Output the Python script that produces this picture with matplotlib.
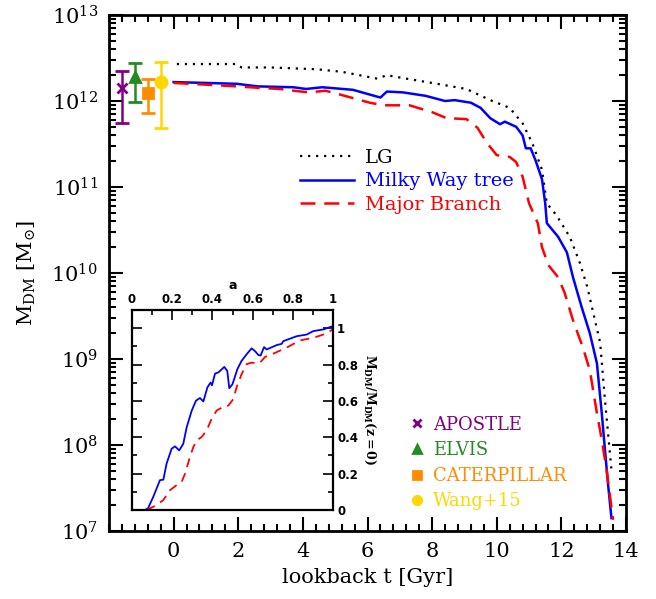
import matplotlib
matplotlib.use("Agg")
import matplotlib.pyplot as plt
import numpy as np
from matplotlib.ticker import MultipleLocator, FixedLocator, LogLocator, LogFormatterMathtext, NullFormatter
from matplotlib.lines import Line2D

plt.rcParams['font.family'] = ['DejaVu Serif']
plt.rcParams['mathtext.fontset'] = 'dejavuserif'

# lookback time [Gyr] and log10(M_DM / Msun)
t_lg = [0.1, 1.0, 1.95, 2.1, 3.0, 4.4, 5.2, 6.3, 6.6, 7.2, 8.0, 9.06, 9.8, 10.4, 10.8,
        11.1, 11.4, 11.55, 11.85, 12.26, 12.57, 12.8, 13.2, 13.34, 13.56]
logm_lg = [12.43, 12.43, 12.43, 12.39, 12.39, 12.37, 12.34, 12.26, 12.30, 12.26, 12.21,
           12.14, 12.01, 11.92, 11.74, 11.51, 11.2, 10.81, 10.67, 10.42, 10.12, 9.84,
           9.19, 8.56, 7.67]

t_mw = [0.0, 1.0, 1.95, 2.6, 3.7, 4.1, 4.6, 5.55, 6.4, 6.6, 7.1, 7.8, 8.4, 8.7, 9.2,
        9.5, 9.8, 10.1, 10.25, 10.6, 10.8, 10.9, 11.05, 11.2, 11.4, 11.5, 11.55, 11.9,
        12.17, 12.36, 12.63, 12.88, 13.1, 13.25, 13.34, 13.44, 13.55]
logm_mw = [12.22, 12.21, 12.20, 12.17, 12.16, 12.14, 12.16, 12.13, 12.04, 12.11, 12.10,
           12.06, 12.0, 12.01, 11.98, 11.92, 11.80, 11.73, 11.76, 11.70, 11.6, 11.45,
           11.45, 11.31, 11.09, 10.81, 10.58, 10.42, 10.24, 9.95, 9.60, 9.30, 8.95,
           8.37, 7.98, 7.56, 7.15]

t_mb = [0.0, 1.0, 1.95, 2.75, 3.3, 3.7, 4.2, 4.7, 5.2, 6.07, 6.5, 7.1, 7.3, 8.0, 8.45,
        9.06, 9.4, 9.7, 10.0, 10.4, 10.6, 10.8, 11.0, 11.27, 11.4, 11.6, 11.9, 12.1,
        12.36, 12.66, 12.88, 13.1, 13.25, 13.4, 13.6]
logm_mb = [12.21, 12.19, 12.17, 12.15, 12.14, 12.12, 12.10, 12.12, 12.07, 11.98, 11.95,
           11.95, 11.95, 11.87, 11.80, 11.79, 11.69, 11.51, 11.37, 11.35, 11.29, 11.12,
           10.81, 10.58, 10.30, 10.09, 9.95, 9.77, 9.45, 9.14, 8.87, 8.37, 8.06, 7.71,
           7.13]

# literature MW mass estimates (in 1e12 Msun)
obs_names = ["APOSTLE", "ELVIS", "CATERPILLAR", "Wang+15"]
obs_t = [-1.6, -1.2, -0.8, -0.4]
obs_m = [1.4, 1.9, 1.25, 1.68]
obs_lo = [0.56, 0.97, 0.72, 0.48]
obs_hi = [2.25, 2.74, 1.8, 2.84]
obs_colors = ["#800080", "#228b22", "#ff8c00", "#ffd700"]
obs_markers = ["x", "^", "s", "o"]

# inset: normalised mass vs scale factor
a_mw = [0.065, 0.08, 0.106, 0.139, 0.156, 0.172, 0.197, 0.214, 0.235, 0.255, 0.272,
        0.297, 0.318, 0.338, 0.355, 0.375, 0.391, 0.398, 0.413, 0.43, 0.438, 0.459,
        0.474, 0.484, 0.5, 0.524, 0.545, 0.57, 0.595, 0.612, 0.629, 0.64, 0.657, 0.67,
        0.72, 0.745, 0.753, 0.82, 0.869, 0.902, 0.952, 0.998]
f_mw = [0.0, 0.01, 0.073, 0.164, 0.167, 0.255, 0.337, 0.35, 0.328, 0.364, 0.455,
        0.546, 0.601, 0.616, 0.597, 0.674, 0.701, 0.686, 0.75, 0.757, 0.765, 0.787,
        0.765, 0.67, 0.692, 0.774, 0.82, 0.856, 0.889, 0.874, 0.852, 0.85, 0.896,
        0.883, 0.907, 0.914, 0.929, 0.956, 0.965, 0.984, 0.993, 1.011]
a_mb = [0.073, 0.122, 0.156, 0.189, 0.222, 0.247, 0.264, 0.288, 0.305, 0.322, 0.346,
        0.371, 0.396, 0.421, 0.454, 0.479, 0.504, 0.52, 0.545, 0.57, 0.595, 0.62,
        0.637, 0.662, 0.703, 0.769, 0.836, 0.902, 0.952, 1.0]
f_mb = [0.0, 0.027, 0.055, 0.109, 0.137, 0.155, 0.2, 0.291, 0.346, 0.383, 0.401,
        0.437, 0.501, 0.547, 0.568, 0.574, 0.61, 0.674, 0.747, 0.802, 0.811, 0.806,
        0.811, 0.842, 0.86, 0.893, 0.933, 0.947, 0.965, 0.993]

fig = plt.figure(figsize=(6.56, 5.99), dpi=100)
ax = fig.add_axes([109/656, 1 - 531/599, 517/656, 516/599])

l_lg, = ax.plot(t_lg, 10**np.array(logm_lg), color="black", ls=(0, (1, 2.6)), lw=1.6)
l_mw, = ax.plot(t_mw, 10**np.array(logm_mw), color="#0000ff", lw=1.8)
l_mb, = ax.plot(t_mb, 10**np.array(logm_mb), color="#ff0000", ls=(0, (6, 3.5)), lw=1.8)

obs_handles = []
for i in range(len(obs_names)):
    m = obs_m[i] * 1e12
    err = [[m - obs_lo[i] * 1e12], [obs_hi[i] * 1e12 - m]]
    ax.errorbar([obs_t[i]], [m], yerr=err, color=obs_colors[i], marker=obs_markers[i],
                ms=6.5 if obs_markers[i] != "o" else 8, mew=2, lw=1.8, capsize=5, capthick=1.8)
    obs_handles.append(Line2D([], [], color=obs_colors[i], marker=obs_markers[i], ls="none",
                              ms=6, mew=2))

ax.set_yscale("log")
ax.set_xlim(-2, 14)
ax.set_ylim(1e7, 1e13)
ax.set_xticks(np.arange(0, 15, 2))
ax.xaxis.set_minor_locator(MultipleLocator(0.4))
ax.yaxis.set_major_locator(FixedLocator([10.0**k for k in range(7, 14)]))
ax.yaxis.set_major_formatter(LogFormatterMathtext())
ax.yaxis.set_minor_locator(LogLocator(base=10, subs=np.arange(2, 10), numticks=20))
ax.yaxis.set_minor_formatter(NullFormatter())
ax.tick_params(which="both", direction="in", top=True, right=True, width=1.5, labelsize=15)
ax.tick_params(which="major", length=10, pad=8)
ax.tick_params(which="minor", length=5)
for s in ax.spines.values():
    s.set_linewidth(2)
ax.set_xlabel("lookback t [Gyr]", fontsize=15, labelpad=5)
ax.set_ylabel(r"$\mathrm{M_{DM}}\ [\mathrm{M_{\odot}}]$", fontsize=15, labelpad=10)

leg1 = ax.legend([l_lg, l_mw, l_mb], ["LG", "Milky Way tree", "Major Branch"],
                 loc="upper left", bbox_to_anchor=(0.335, 0.775), frameon=False,
                 handlelength=2.8, handletextpad=0.55, fontsize=14,
                 labelcolor="linecolor", labelspacing=0.3)
ax.add_artist(leg1)
ax.legend(obs_handles, obs_names, loc="upper left", bbox_to_anchor=(0.55, 0.255),
          frameon=False, handlelength=0.8, handletextpad=0.5, fontsize=13,
          labelcolor=obs_colors, labelspacing=0.42)

# inset
axi = fig.add_axes([132/656, 1 - 510/599, 201/656, 200/599])
axi.plot(a_mw, f_mw, color="#0000ff", lw=1.3)
axi.plot(a_mb, f_mb, color="#ff0000", ls=(0, (5, 3.5)), lw=1.3)
axi.set_xlim(0, 1)
axi.set_ylim(0, 1.1)
axi.xaxis.set_major_locator(MultipleLocator(0.2))
axi.xaxis.set_minor_locator(MultipleLocator(0.1))
axi.yaxis.set_major_locator(MultipleLocator(0.2))
axi.yaxis.set_minor_locator(MultipleLocator(0.1))
axi.xaxis.set_major_formatter(plt.FuncFormatter(lambda v, p: "%g" % v))
axi.yaxis.set_major_formatter(plt.FuncFormatter(lambda v, p: "%g" % v))
axi.tick_params(which="both", direction="in", top=True, bottom=False, labeltop=True,
                labelbottom=False, left=True, right=True, labelleft=False,
                labelright=True, width=1.2, labelsize=8.5, pad=3)
axi.tick_params(which="major", length=7)
axi.tick_params(which="minor", length=3.5)
for lab in axi.get_xticklabels() + axi.get_yticklabels():
    lab.set_family("DejaVu Sans")
    lab.set_weight("bold")
for s in axi.spines.values():
    s.set_linewidth(1.6)
axi.xaxis.set_label_position("top")
axi.set_xlabel("a", fontsize=9, family="DejaVu Sans", weight="bold", labelpad=3)
axi.yaxis.set_label_position("right")
axi.set_ylabel(r"$\mathbf{M_{DM}/M_{DM}(z=0)}$", fontsize=9, rotation=270, labelpad=14)

fig.savefig("out.png", dpi=100)
